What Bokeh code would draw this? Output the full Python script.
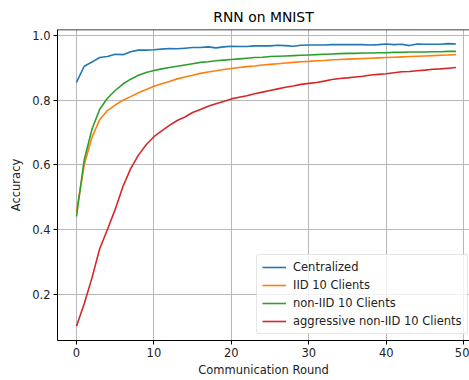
from bokeh.plotting import figure
from bokeh.models import (Range1d, FixedTicker, NumeralTickFormatter, Legend, LegendItem, Span)
from bokeh.embed import file_html
from bokeh.resources import INLINE

rounds = list(range(50))

centralized = [0.855, 0.905, 0.918, 0.932, 0.935, 0.942, 0.941, 0.950, 0.955, 0.955,
               0.956, 0.958, 0.960, 0.959, 0.961, 0.963, 0.963, 0.965, 0.962, 0.965,
               0.967, 0.966, 0.966, 0.968, 0.968, 0.968, 0.970, 0.969, 0.967, 0.970,
               0.971, 0.971, 0.971, 0.972, 0.972, 0.972, 0.972, 0.972, 0.971, 0.972,
               0.974, 0.972, 0.973, 0.969, 0.974, 0.973, 0.973, 0.973, 0.975, 0.974]

iid10 = [0.455, 0.600, 0.685, 0.740, 0.768, 0.785, 0.800, 0.811, 0.823, 0.833,
         0.843, 0.851, 0.858, 0.866, 0.872, 0.877, 0.883, 0.887, 0.891, 0.895,
         0.898, 0.901, 0.904, 0.906, 0.909, 0.911, 0.913, 0.915, 0.917, 0.919,
         0.920, 0.922, 0.923, 0.925, 0.926, 0.927, 0.928, 0.929, 0.930, 0.931,
         0.932, 0.933, 0.934, 0.935, 0.936, 0.937, 0.938, 0.939, 0.940, 0.941]

noniid10 = [0.440, 0.615, 0.710, 0.772, 0.806, 0.830, 0.850, 0.865, 0.877, 0.886,
            0.892, 0.897, 0.901, 0.905, 0.909, 0.913, 0.917, 0.919, 0.922, 0.924,
            0.926, 0.928, 0.930, 0.932, 0.933, 0.935, 0.936, 0.937, 0.938, 0.939,
            0.940, 0.941, 0.942, 0.943, 0.944, 0.945, 0.945, 0.946, 0.946, 0.947,
            0.947, 0.948, 0.948, 0.949, 0.949, 0.949, 0.950, 0.950, 0.951, 0.951]

aggressive10 = [0.100, 0.170, 0.250, 0.340, 0.400, 0.462, 0.533, 0.588, 0.630, 0.662,
                0.687, 0.705, 0.722, 0.737, 0.748, 0.762, 0.771, 0.781, 0.789, 0.796,
                0.804, 0.809, 0.814, 0.820, 0.825, 0.830, 0.835, 0.840, 0.844, 0.849,
                0.852, 0.855, 0.859, 0.864, 0.867, 0.869, 0.872, 0.874, 0.878, 0.880,
                0.882, 0.885, 0.888, 0.889, 0.891, 0.893, 0.896, 0.897, 0.899, 0.901]

series_names = ["Centralized", "IID 10 Clients", "non-IID 10 Clients",
                "aggressive non-IID 10 Clients"]
series_values = [centralized, iid10, noniid10, aggressive10]
colors = ["#1f77b4", "#ff7f0e", "#2ca02c", "#d62728"]

x_ticks = [0, 10, 20, 30, 40, 50]
y_ticks = [0.2, 0.4, 0.6, 0.8, 1.0]

FONT = "DejaVu Sans"

p = figure(width=469, height=380, output_backend="svg", toolbar_location=None,
           x_range=Range1d(-2.45, 50.75), y_range=Range1d(0.0562, 1.0188),
           min_border_left=57, min_border_right=0, min_border_top=29,
           min_border_bottom=40, title="RNN on MNIST")

p.title.align = "center"
p.title.offset = 3
p.title.text_font = FONT
p.title.text_font_size = "13.9px"
p.title.text_font_style = "normal"
p.title.text_color = "#000000"

p.outline_line_color = None
p.background_fill_color = "white"
p.border_fill_color = "white"

for ax in (p.xaxis[0], p.yaxis[0]):
    ax.axis_line_color = "black"
    ax.axis_line_width = 1
    ax.major_tick_line_color = "black"
    ax.major_tick_out = 4
    ax.major_tick_in = 0
    ax.minor_tick_line_color = None
    ax.major_label_text_font = FONT
    ax.major_label_text_font_size = "11.5px"
    ax.major_label_text_color = "#222222"
    ax.axis_label_text_font = FONT
    ax.axis_label_text_font_size = "11.5px"
    ax.axis_label_text_font_style = "normal"
    ax.axis_label_text_color = "#222222"
    ax.major_label_standoff = 3

p.xaxis.ticker = FixedTicker(ticks=x_ticks)
p.yaxis.ticker = FixedTicker(ticks=y_ticks)
p.yaxis.formatter = NumeralTickFormatter(format="0.0")
p.xaxis.axis_label = "Communication Round"
p.yaxis.axis_label = "Accuracy"
p.xaxis.axis_label_standoff = 3
p.yaxis.axis_label_standoff = 6

p.xgrid.ticker = FixedTicker(ticks=x_ticks)
p.ygrid.ticker = FixedTicker(ticks=y_ticks)
p.grid.grid_line_color = "#b0b0b0"
p.grid.grid_line_width = 1
p.grid.grid_line_alpha = 0.9

top_line = Span(location=1.0188, dimension="width", line_color="black", line_width=1.5)
p.add_layout(top_line)

items = []
for name, vals, c in zip(series_names, series_values, colors):
    r = p.line(rounds, vals, line_color=c, line_width=1.6)
    items.append(LegendItem(label=name, renderers=[r]))

legend = Legend(items=items, location=(199, 6))
legend.label_text_font = FONT
legend.label_text_font_size = "11.5px"
legend.label_text_color = "#222222"
legend.glyph_width = 24
legend.glyph_height = 14
legend.label_height = 14
legend.label_standoff = 7
legend.spacing = 4
legend.padding = 5
legend.margin = 0
legend.border_line_color = "#cccccc"
legend.border_line_width = 1
legend.border_radius = 3
legend.background_fill_alpha = 0.8
p.add_layout(legend, "center")

open("out.html", "w").write(file_html(p, INLINE))
